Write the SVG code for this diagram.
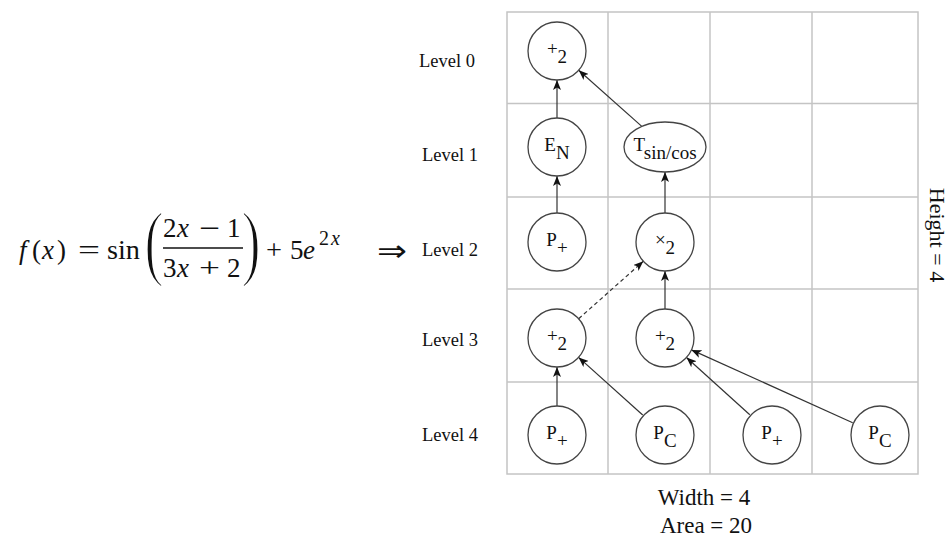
<svg xmlns="http://www.w3.org/2000/svg" width="951" height="540" viewBox="0 0 951 540">
<defs>
<style>
.grid{fill:none;stroke:#c4c4c4;stroke-width:1.5}
.node{fill:#fff;stroke:#444;stroke-width:1.3}
.lbl{font-family:"Liberation Serif","Times New Roman",serif;font-size:19px;fill:#111;text-anchor:middle}
.lvl{font-family:"Liberation Serif","Times New Roman",serif;font-size:18.5px;fill:#111;text-anchor:middle}
.cap{font-family:"Liberation Serif","Times New Roman",serif;font-size:23px;fill:#111;text-anchor:middle}
.eq{font-family:"Liberation Serif","Times New Roman",serif;font-size:27px;fill:#111}
.it{font-style:italic}
.par{font-family:"Liberation Serif","Times New Roman",serif;font-size:84px;fill:#111;stroke:#fff;stroke-width:2.2}
.edge{stroke:#333;stroke-width:1.2;fill:none;marker-end:url(#arr)}
.dash{stroke-dasharray:4 3}
</style>
<marker id="arr" viewBox="0 0 10 8" refX="10" refY="4" markerWidth="10" markerHeight="8" orient="auto" markerUnits="userSpaceOnUse">
<path d="M0,0 L10,4 L0,8 L2.5,4 z" fill="#111"/>
</marker>
</defs>
<rect width="951" height="540" fill="#fff"/>

<g id="formula">
<text class="eq it" x="19" y="259">f</text>
<text class="eq" x="32" y="259">(</text>
<text class="eq it" x="42" y="259">x</text>
<text class="eq" x="57" y="259">)</text>
<text class="eq" x="78" y="259" textLength="22" lengthAdjust="spacingAndGlyphs">=</text>
<text class="eq" x="107" y="259" textLength="33" lengthAdjust="spacingAndGlyphs">sin</text>
<text class="par" x="-4" y="270" transform="translate(147,0) scale(0.7,1)">(</text>
<text class="eq" x="163" y="237">2</text>
<text class="eq it" x="177" y="237">x</text>
<text class="eq" x="199" y="237" textLength="21" lengthAdjust="spacingAndGlyphs">−</text>
<text class="eq" x="227" y="237">1</text>
<line x1="163" y1="248" x2="243" y2="248" stroke="#111" stroke-width="1.4"/>
<text class="eq" x="163" y="277">3</text>
<text class="eq it" x="177" y="277">x</text>
<text class="eq" x="199" y="277" textLength="21" lengthAdjust="spacingAndGlyphs">+</text>
<text class="eq" x="227" y="277">2</text>
<text class="par" x="-2.4" y="270" transform="translate(243,0) scale(0.7,1)">)</text>
<text class="eq" x="266" y="259" textLength="16" lengthAdjust="spacingAndGlyphs">+</text>
<text class="eq" x="290" y="259">5</text>
<text class="eq it" x="303" y="259">e</text>
<text class="eq" x="319" y="245" style="font-size:20px">2</text>
<text class="eq it" x="331" y="245" style="font-size:20px">x</text>
<text x="377" y="261" font-family="DejaVu Sans, sans-serif" font-size="30" fill="#111" textLength="30" lengthAdjust="spacingAndGlyphs">⇒</text>
</g>

<g id="levels">
<text class="lvl" x="447" y="67">Level 0</text>
<text class="lvl" x="450" y="161">Level 1</text>
<text class="lvl" x="450" y="256">Level 2</text>
<text class="lvl" x="450" y="346">Level 3</text>
<text class="lvl" x="450" y="441">Level 4</text>
</g>

<g id="grid">
<rect class="grid" x="507" y="12" width="411" height="462"/>
<line class="grid" x1="608" y1="12" x2="608" y2="474"/>
<line class="grid" x1="710" y1="12" x2="710" y2="474"/>
<line class="grid" x1="812" y1="12" x2="812" y2="474"/>
<line class="grid" x1="507" y1="103.5" x2="918" y2="103.5"/>
<line class="grid" x1="507" y1="197" x2="918" y2="197"/>
<line class="grid" x1="507" y1="289" x2="918" y2="289"/>
<line class="grid" x1="507" y1="382" x2="918" y2="382"/>
</g>

<g id="connectors">
<line class="edge" x1="557" y1="118" x2="557" y2="80"/>
<line class="edge" x1="641.8" y1="126.4" x2="578.7" y2="70.3"/>
<line class="edge" x1="557" y1="213" x2="557" y2="176"/>
<line class="edge" x1="665" y1="213" x2="665" y2="172"/>
<line class="edge dash" x1="578.7" y1="318.7" x2="643.3" y2="261.3"/>
<line class="edge" x1="665" y1="309" x2="665" y2="271"/>
<line class="edge" x1="557" y1="406" x2="557" y2="367"/>
<line class="edge" x1="642.7" y1="415" x2="578.6" y2="357.4"/>
<line class="edge" x1="749.8" y1="414.8" x2="686.5" y2="357.5"/>
<line class="edge" x1="852.7" y1="422.7" x2="691.4" y2="349.9"/>
</g>

<g id="n0"><circle class="node" cx="557" cy="51" r="29"/><text class="lbl" x="557" y="55">+<tspan dy="8">2</tspan></text></g>
<g id="n1"><circle class="node" cx="557" cy="147" r="29"/><text class="lbl" x="557" y="151">E<tspan dy="8">N</tspan></text></g>
<g id="n2"><ellipse class="node" cx="665" cy="147" rx="41" ry="25"/><text class="lbl" x="665" y="151">T<tspan dy="8">sin/cos</tspan></text></g>
<g id="n3"><circle class="node" cx="557" cy="242" r="29"/><text class="lbl" x="557" y="246">P<tspan dy="8">+</tspan></text></g>
<g id="n4"><circle class="node" cx="665" cy="242" r="29"/><text class="lbl" x="665" y="246">×<tspan dy="8">2</tspan></text></g>
<g id="n5"><circle class="node" cx="557" cy="338" r="29"/><text class="lbl" x="557" y="342">+<tspan dy="8">2</tspan></text></g>
<g id="n6"><circle class="node" cx="665" cy="338" r="29"/><text class="lbl" x="665" y="342">+<tspan dy="8">2</tspan></text></g>
<g id="n7"><circle class="node" cx="557" cy="435" r="29"/><text class="lbl" x="557" y="439">P<tspan dy="8">+</tspan></text></g>
<g id="n8"><circle class="node" cx="665" cy="435" r="29"/><text class="lbl" x="665" y="439">P<tspan dy="8">C</tspan></text></g>
<g id="n9"><circle class="node" cx="772" cy="435" r="29"/><text class="lbl" x="772" y="439">P<tspan dy="8">+</tspan></text></g>
<g id="n10"><circle class="node" cx="880" cy="435" r="29"/><text class="lbl" x="880" y="439">P<tspan dy="8">C</tspan></text></g>

<g id="captions">
<text class="cap" x="704" y="505">Width = 4</text>
<text class="cap" x="706" y="533">Area = 20</text>
<text class="cap" x="0" y="0" transform="translate(930,235) rotate(90)" style="font-size:22px">Height = 4</text>
</g>
</svg>
